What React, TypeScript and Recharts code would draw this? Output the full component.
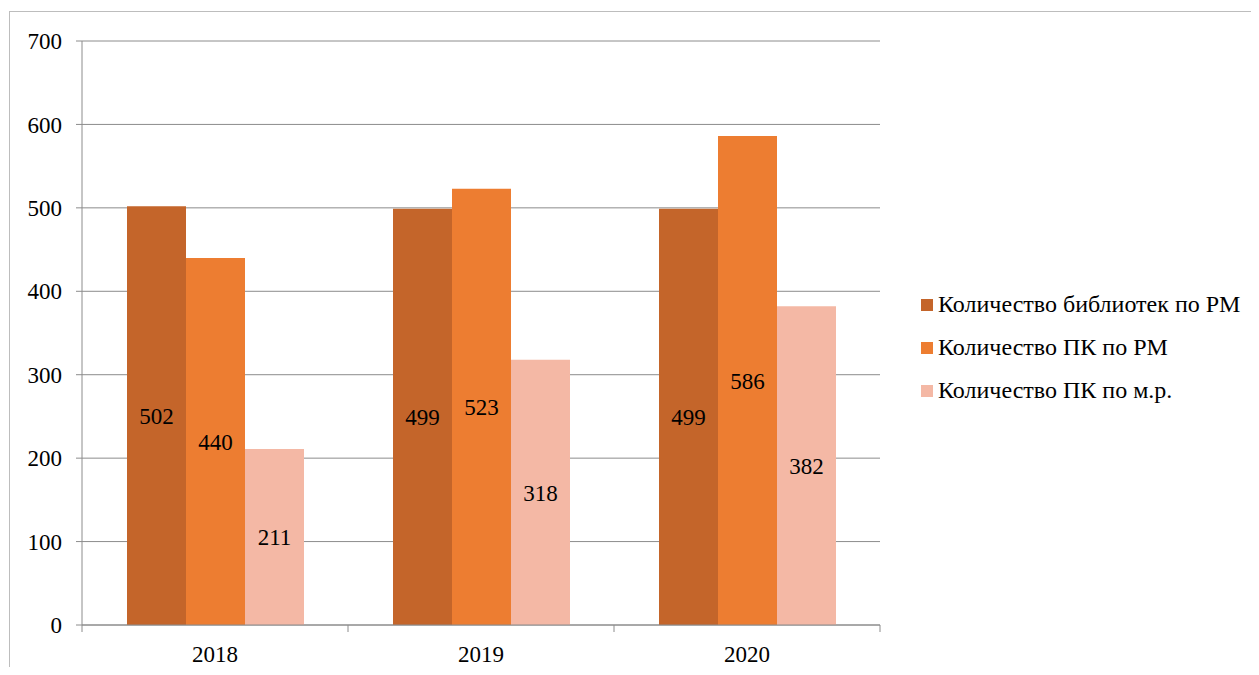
import React from "react";
import { BarChart, Bar, XAxis, YAxis, CartesianGrid, LabelList } from "recharts";

const years = ["2018", "2019", "2020"];
const libraries = [502, 499, 499];
const pcRM = [440, 523, 586];
const pcMR = [211, 318, 382];
const yTicks = [0, 100, 200, 300, 400, 500, 600, 700];

const series = [
  { key: "libraries", name: "Количество библиотек по РМ", color: "#C4652A" },
  { key: "pcRM", name: "Количество ПК по РМ", color: "#ED7D31" },
  { key: "pcMR", name: "Количество ПК по м.р.", color: "#F4B8A5" },
];

const data = years.map((year, i) => ({
  year,
  libraries: libraries[i],
  pcRM: pcRM[i],
  pcMR: pcMR[i],
}));

const FONT = "Liberation Serif, DejaVu Serif, serif";
const AXIS = "#8c8c8c";

// year label plus the small tick marks at the band edges
function YearTick(props: any) {
  const { x, y, payload, index, visibleTicksCount } = props;
  const half = payload && typeof payload.offset === "number" ? payload.offset : 0;
  const last = index === (visibleTicksCount ?? years.length) - 1;
  return (
    <g>
      <line x1={x - half} x2={x - half} y1={y} y2={y + 7} stroke={AXIS} />
      {last && <line x1={x + half} x2={x + half} y1={y} y2={y + 7} stroke={AXIS} />}
      <text x={x} y={y + 37} textAnchor="middle" fill="#000" fontSize={23} fontFamily={FONT}>
        {payload.value}
      </text>
    </g>
  );
}

export default function App() {
  return (
    <div style={{ position: "relative", width: 1243, height: 659, fontFamily: FONT }}>
      <div
        style={{
          position: "absolute",
          left: 1,
          top: 3,
          width: 1242,
          height: 656,
          borderTop: "1px solid #bdbdbd",
          borderLeft: "1px solid #bdbdbd",
          boxSizing: "border-box",
        }}
      />
      <BarChart
        width={1243}
        height={659}
        data={data}
        margin={{ top: 33, right: 371, left: 0, bottom: 0 }}
        barGap={0}
        barSize={59}
        style={{ position: "absolute", left: 0, top: 0, fontFamily: FONT }}
      >
        <CartesianGrid vertical={false} stroke={AXIS} strokeWidth={1} />
        <XAxis
          dataKey="year"
          tickLine={false}
          tickSize={0}
          tickMargin={0}
          axisLine={{ stroke: AXIS }}
          tick={<YearTick />}
          height={42}
          interval={0}
        />
        <YAxis
          domain={[0, 700]}
          ticks={yTicks}
          width={74}
          tickMargin={14}
          axisLine={{ stroke: AXIS }}
          tickLine={{ stroke: AXIS }}
          tick={{ fill: "#000", fontSize: 23, fontFamily: FONT }}
        />
        {series.map((s) => (
          <Bar key={s.key} dataKey={s.key} name={s.name} fill={s.color} isAnimationActive={false}>
            <LabelList
              dataKey={s.key}
              position="center"
              fill="#000"
              fontSize={23}
              fontFamily={FONT}
            />
          </Bar>
        ))}
      </BarChart>
      <div style={{ position: "absolute", left: 913, top: 275, fontFamily: FONT }}>
        {series.map((s) => (
          <div
            key={s.key}
            style={{ display: "flex", alignItems: "center", height: 43, fontSize: 24, color: "#000" }}
          >
            <span
              style={{ width: 12, height: 12, background: s.color, marginRight: 5, display: "inline-block" }}
            />
            <span>{s.name}</span>
          </div>
        ))}
      </div>
    </div>
  );
}
